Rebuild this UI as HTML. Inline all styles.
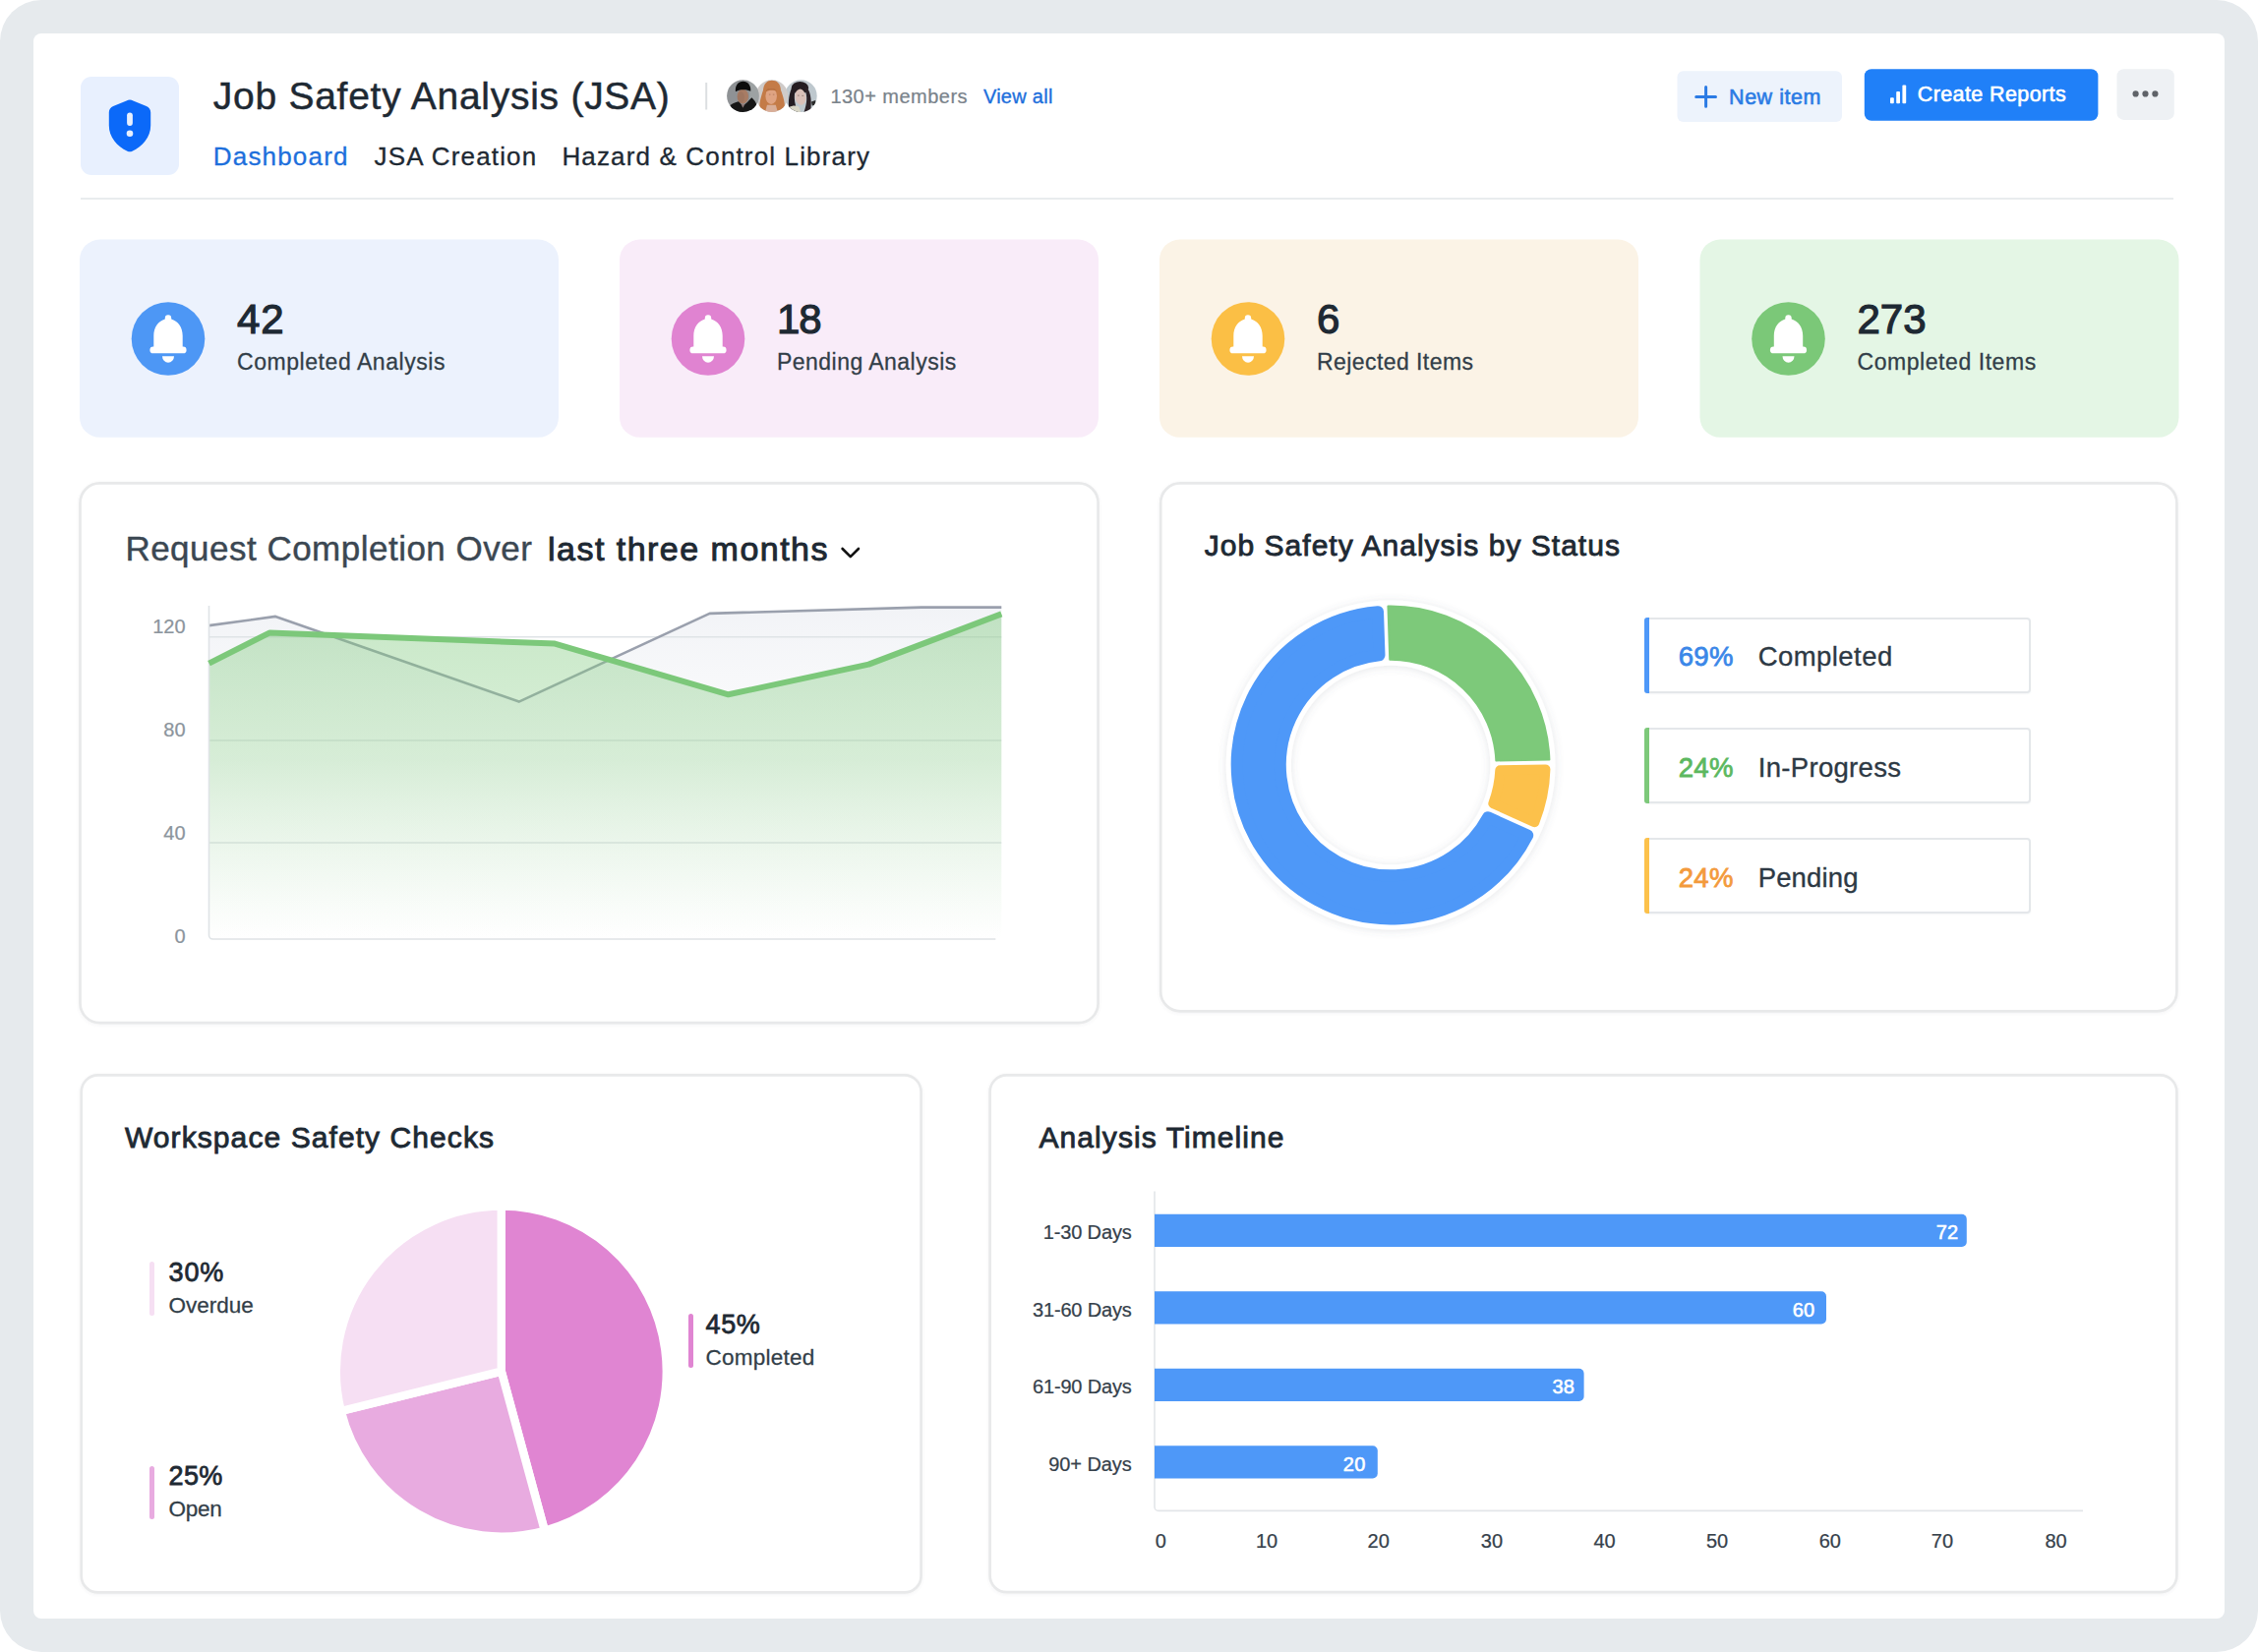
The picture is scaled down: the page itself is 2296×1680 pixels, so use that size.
<!DOCTYPE html>
<html lang="en"><head><meta charset="utf-8"><title>Job Safety Analysis (JSA)</title>
<style>
html,body{margin:0;padding:0}
body{width:2296px;height:1680px;position:relative;overflow:hidden;background:#fff;font-family:'Liberation Sans', sans-serif}
.abs{position:absolute}
.t{position:absolute;white-space:pre;line-height:1.2}
.frame{left:0;top:0;width:2296px;height:1680px;border-radius:42px;background:#e6eaed}
.panel{left:34px;top:34px;width:2228px;height:1612px;border-radius:8px;background:#fff}
.card{box-sizing:border-box;border:2px solid #e2e5e8;border-radius:23px;background:#fff;box-shadow:0 1px 3px rgba(90,100,112,.05)}
.hr{left:82px;top:201px;width:2128px;height:2px;background:#e9ecee}
.lg{box-sizing:border-box;width:393.600px;height:77.400px;border:2px solid #e4e7ea;border-radius:4px;background:#fff;box-shadow:0 1px 2px rgba(90,100,112,.06)}
.lg i{position:absolute;left:-2px;top:-2px;bottom:-2px;width:5.300px;border-radius:3px 0 0 3px}
.pb{width:5.200px;height:54.600px;border-radius:2.600px}
</style></head><body>
<div class="abs frame"></div><div class="abs panel"></div>
<div class="abs hr"></div>
<svg class="abs" style="left:0;top:0" width="2296" height="1680" viewBox="0 0 2296 1680">
<rect x="82" y="78" width="100" height="100" rx="11" fill="#e8f0fe"/>
<path d="M132 101.6c1.2 0 2.3 .3 3.4 .8l13.5 5.6c2.6 1.1 4.3 3.4 4.3 6.2v13.3c0 12-8.300 21.500-18.700 26.300a6 6 0 0 1 -5 0C119.100 149 110.800 139.500 110.800 127.500V114.200c0-2.800 1.700-5.100 4.300-6.200l13.500-5.600c1.100-.5 2.200-.8 3.400-.8Z" fill="#0b69f9"/>
<rect x="129.100" y="114.400" width="5.800" height="13.600" rx="2.900" fill="#e8f0fe"/><circle cx="132" cy="135.700" r="3.300" fill="#e8f0fe"/>
</svg>
<svg class="abs" style="left:0;top:0" width="2296" height="1680" viewBox="0 0 2296 1680"><defs><clipPath id="avc"><circle cx="0" cy="0" r="333"/></clipPath></defs><g transform="translate(814.4 97.6) scale(0.04895)"><g clip-path="url(#avc)"><rect x="-340" y="-340" width="680" height="680" fill="#bec8ce"/>
<ellipse cx="-20" cy="-170" rx="176" ry="130" fill="#241d22"/>
<path d="M-192 -170C-262 0 -272 200 -232 335L-60 335C-122 200 -152 50 -122 -100Z" fill="#241d22"/>
<path d="M90 -205C192 -122 232 40 202 335L62 335C132 150 132 0 92 -100Z" fill="#2b2127"/>
<ellipse cx="-12" cy="20" rx="113" ry="165" fill="#d9c0b8" transform="rotate(-8)"/>
<path d="M-242 232C-182 192 -102 192 -42 222L0 345H-262Z" fill="#d8d6c6"/><path d="M216 122L302 92L312 182L232 202Z" fill="#2a2a2a"/>
<path d="M-70 -10h36M20 -5h36" stroke="#3a2a2a" stroke-width="14" opacity=".6"/></g></g><g transform="translate(784.9 97.6) scale(0.04895)"><g clip-path="url(#avc)"><rect x="-340" y="-340" width="680" height="680" fill="#cfcbc9"/>
<path d="M-182 -120C-172 -262 -92 -326 0 -326C100 -326 180 -262 186 -120C232 0 282 150 262 300L-252 312C-272 150 -222 0 -182 -120Z" fill="#c47b47"/>
<ellipse cx="-15" cy="0" rx="118" ry="172" fill="#dfa382"/>
<path d="M-135 -85C-105 -192 62 -202 108 -92C40 -130 -62 -132 -135 -85Z" fill="#b8703f"/>
<path d="M-100 185L80 185L125 345H-145Z" fill="#d9ae98"/><path d="M-60 -30h30M20 -30h30" stroke="#7a4a35" stroke-width="14" opacity=".6"/></g></g><g transform="translate(755.4 97.6) scale(0.04895)"><g clip-path="url(#avc)"><rect x="-340" y="-340" width="680" height="680" fill="#8f9295"/><rect x="140" y="-340" width="200" height="680" fill="#aaaeaf" opacity=".55"/>
<ellipse cx="-2" cy="10" rx="118" ry="152" fill="#a87c64"/><ellipse cx="-40" cy="30" rx="70" ry="120" fill="#96705c" opacity=".5"/>
<path d="M-152 -88C-165 -220 -92 -302 5 -302C102 -302 172 -222 160 -98C100 -142 -92 -142 -152 -88Z" fill="#0c0c0c"/>
<path d="M-262 192C-200 150 -135 122 -92 116L0 205L92 132L182 32C232 72 272 132 292 200L300 345H-300Z" fill="#161616"/><path d="M-40 160L0 250L40 170Z" fill="#8e7a78"/></g></g><rect x="717.2" y="84" width="2" height="27.5" fill="#dcdfe2"/></svg>
<svg class="abs" style="left:0;top:0" width="2296" height="1680" viewBox="0 0 2296 1680">
<rect x="1705.500" y="72.300" width="167.500" height="51.600" rx="6" fill="#edf3fc"/>
<path d="M1734.600 88.500v19.800M1724.700 98.400h19.800" stroke="#2b7be4" stroke-width="3" stroke-linecap="round"/>
<rect x="1895.800" y="70.300" width="237.600" height="52.400" rx="7" fill="#2080f8"/>
<g fill="#fff"><rect x="1922" y="99.300" width="3.800" height="6" rx="1"/><rect x="1928.200" y="93" width="3.800" height="12.300" rx="1"/><rect x="1934.400" y="86.500" width="3.800" height="18.800" rx="1"/></g>
<rect x="2152.500" y="70.300" width="58.300" height="51.600" rx="7" fill="#eef1f4"/>
<g fill="#5f6368"><circle cx="2171.600" cy="95.400" r="3.100"/><circle cx="2181.500" cy="95.400" r="3.100"/><circle cx="2191.400" cy="95.400" r="3.100"/></g>
</svg>
<svg class="abs" style="left:0;top:0" width="2296" height="1680" viewBox="0 0 2296 1680"><rect x="81" y="243.6" width="487" height="201.2" rx="20.5" fill="#ecf2fd"/><circle cx="171" cy="344.5" r="37.3" fill="#4d97f5"/><g transform="translate(171 344.5)" fill="#fff"><path d="M-14.7 8.5V-3C-14.7 -12 -9.6 -18 -3.2 -19.9V-21.1a3.2 3.2 0 0 1 6.4 0V-19.9C9.6 -18 14.7 -12 14.7 -3V8.5Z"/><rect x="-18.6" y="8" width="37.2" height="6.8" rx="3.4"/><path d="M-6 17.8H6A6 6.4 0 0 1 -6 17.8Z"/></g><rect x="630" y="243.6" width="487" height="201.2" rx="20.5" fill="#f9ecf9"/><circle cx="720" cy="344.5" r="37.3" fill="#e083d1"/><g transform="translate(720 344.5)" fill="#fff"><path d="M-14.7 8.5V-3C-14.7 -12 -9.6 -18 -3.2 -19.9V-21.1a3.2 3.2 0 0 1 6.4 0V-19.9C9.6 -18 14.7 -12 14.7 -3V8.5Z"/><rect x="-18.6" y="8" width="37.2" height="6.8" rx="3.4"/><path d="M-6 17.8H6A6 6.4 0 0 1 -6 17.8Z"/></g><rect x="1179" y="243.6" width="487" height="201.2" rx="20.5" fill="#fbf3e6"/><circle cx="1269" cy="344.5" r="37.3" fill="#fbbf45"/><g transform="translate(1269 344.5)" fill="#fff"><path d="M-14.7 8.5V-3C-14.7 -12 -9.6 -18 -3.2 -19.9V-21.1a3.2 3.2 0 0 1 6.4 0V-19.9C9.6 -18 14.7 -12 14.7 -3V8.5Z"/><rect x="-18.6" y="8" width="37.2" height="6.8" rx="3.4"/><path d="M-6 17.8H6A6 6.4 0 0 1 -6 17.8Z"/></g><rect x="1728.5" y="243.6" width="487" height="201.2" rx="20.5" fill="#e4f6e5"/><circle cx="1818.5" cy="344.5" r="37.3" fill="#7bc878"/><g transform="translate(1818.5 344.5)" fill="#fff"><path d="M-14.7 8.5V-3C-14.7 -12 -9.6 -18 -3.2 -19.9V-21.1a3.2 3.2 0 0 1 6.4 0V-19.9C9.6 -18 14.7 -12 14.7 -3V8.5Z"/><rect x="-18.6" y="8" width="37.2" height="6.8" rx="3.4"/><path d="M-6 17.8H6A6 6.4 0 0 1 -6 17.8Z"/></g></svg>
<svg class="abs" style="left:0;top:0" width="2296" height="1680" viewBox="0 0 2296 1680"><defs><filter id="cs" x="-2%" y="-2%" width="104%" height="106%"><feDropShadow dx="0" dy="1" stdDeviation="1.6" flood-color="#5a6470" flood-opacity="0.07"/></filter></defs><g fill="#fff" stroke="#e8e9ea" stroke-width="2.7" filter="url(#cs)"><rect x="81.5" y="491.4" width="1035.1" height="548.8" rx="20"/><rect x="1180.2" y="491.4" width="1033.2" height="537.0" rx="20"/><rect x="82.7" y="1093.4" width="853.9" height="526.0" rx="17"/><rect x="1006.6" y="1093.4" width="1206.8" height="525.8" rx="17"/></g></svg>
<svg class="abs" style="left:0;top:0" width="2296" height="1680" viewBox="0 0 2296 1680">
<defs>
<linearGradient id="gg" x1="0" y1="624" x2="0" y2="955" gradientUnits="userSpaceOnUse">
<stop offset="0" stop-color="#7cc87a" stop-opacity="0.42"/><stop offset="0.45" stop-color="#8fd08d" stop-opacity="0.34"/><stop offset="1" stop-color="#a8dba6" stop-opacity="0.0"/></linearGradient>
<linearGradient id="gr" x1="0" y1="617" x2="0" y2="955" gradientUnits="userSpaceOnUse">
<stop offset="0" stop-color="#e4e7ee" stop-opacity="0.5"/><stop offset="0.4" stop-color="#eef0f4" stop-opacity="0.25"/><stop offset="1" stop-color="#eef0f4" stop-opacity="0"/></linearGradient>
</defs>
<polygon points="212.5,636.1 280.2,626.9 527.7,713.6 721.6,623.9 936.9,617.6 1018.3,617.6 1018.3,955 212.5,955" fill="url(#gr)"/>
<g stroke="#dfe3e6" stroke-width="1.4">
<line x1="212.5" y1="647.8" x2="1018.3" y2="647.8"/><line x1="212.5" y1="753" x2="1018.3" y2="753"/><line x1="212.5" y1="857" x2="1018.3" y2="857"/>
</g>
<polyline points="212.5,636.1 280.2,626.9 527.7,713.6 721.6,623.9 936.9,617.6 1018.3,617.6" fill="none" stroke="#9aa0ad" stroke-width="2.6" stroke-linejoin="round"/>
<polygon points="212.5,674.6 274.4,643.4 564.2,654.6 740.6,706.3 883.3,675.6 1018.3,624.4 1018.3,955 212.5,955" fill="url(#gg)"/>
<path d="M212.5 616V951a4 4 0 0 0 4 4H1012.4" fill="none" stroke="#dfe3e6" stroke-width="1.6"/>
<polyline points="212.5,674.6 274.4,643.4 564.2,654.6 740.6,706.3 883.3,675.6 1018.3,624.4" fill="none" stroke="#7cc87a" stroke-width="6" stroke-linejoin="round"/>
<path d="M856.6 558l8.2 8.2 8.2-8.2" fill="none" stroke="#111" stroke-width="2.6" stroke-linecap="round" stroke-linejoin="round"/>
</svg>
<svg class="abs" style="left:0;top:0" width="2296" height="1680" viewBox="0 0 2296 1680">
<defs><filter id="ds" x="-20%" y="-20%" width="140%" height="140%"><feDropShadow dx="0" dy="1" stdDeviation="4" flood-color="#5a6470" flood-opacity="0.16"/></filter></defs>
<path d="M1414.1 610.6a167.4 167.4 0 1 1 -0.01 0ZM1414.1 676.7a101.3 101.3 0 1 0 0.01 0Z" fill="#fff" fill-rule="evenodd" filter="url(#ds)"/>
<path d="M1411.45 616.62A161.40 161.40 0 0 1 1575.41 772.48L1521.30 773.43A107.30 107.30 0 0 0 1413.24 670.70Z" fill="#7dc97a" stroke="#7dc97a" stroke-width="2.0" stroke-linejoin="round"/>
<path d="M1571.44 782.45A157.40 157.40 0 0 1 1560.37 836.14L1518.29 817.14A111.30 111.30 0 0 0 1525.28 783.26Z" fill="#fcc14b" stroke="#fcc14b" stroke-width="10" stroke-linejoin="round"/>
<path d="M1553.21 849.48A156.40 156.40 0 1 1 1401.03 622.15L1402.49 666.30A112.30 112.30 0 1 0 1512.95 831.30Z" fill="#4e98f8" stroke="#4e98f8" stroke-width="12" stroke-linejoin="round"/>
</svg>
<div class="abs lg" style="left:1671.8px;top:627.5px"><i style="background:#4e98f8"></i></div><div class="abs lg" style="left:1671.8px;top:739.8px"><i style="background:#7dc97a"></i></div><div class="abs lg" style="left:1671.8px;top:852.1px"><i style="background:#fcc14b"></i></div>
<svg class="abs" style="left:0;top:0" width="2296" height="1680" viewBox="0 0 2296 1680">
<g stroke="#fff" stroke-width="8.4" stroke-linejoin="miter">
<path d="M509.8 1394.6L509.80 1226.60A168 168 0 0 1 553.85 1556.72Z" fill="#e085d2"/>
<path d="M509.8 1394.6L553.85 1556.72A168 168 0 0 1 346.72 1434.96Z" fill="#e8abe0"/>
<path d="M509.8 1394.6L346.72 1434.96A168 168 0 0 1 509.80 1226.60Z" fill="#f6dff3"/>
</g></svg>
<div class="abs pb" style="left:151.7px;top:1283.2px;background:#f6dff3"></div><div class="abs pb" style="left:151.7px;top:1490.5px;background:#e8abe0"></div><div class="abs pb" style="left:700px;top:1336.2px;background:#e085d2"></div>
<svg class="abs" style="left:0;top:0" width="2296" height="1680" viewBox="0 0 2296 1680">
<path d="M1174 1211.5V1532.4a4 4 0 0 0 4 4H2118" fill="none" stroke="#e3e6e9" stroke-width="1.6"/>
<path d="M1174 1234.8H1994.8a5 5 0 0 1 5 5v23.2a5 5 0 0 1 -5 5H1174Z" fill="#4e98f8"/><path d="M1174 1313.3H1852.0a5 5 0 0 1 5 5v23.2a5 5 0 0 1 -5 5H1174Z" fill="#4e98f8"/><path d="M1174 1391.8H1605.6a5 5 0 0 1 5 5v23.2a5 5 0 0 1 -5 5H1174Z" fill="#4e98f8"/><path d="M1174 1470.3H1395.8a5 5 0 0 1 5 5v23.2a5 5 0 0 1 -5 5H1174Z" fill="#4e98f8"/></svg>
<div class="t" style="left:216.8px;top:74.8px;font-size:39px;color:#1e2933;-webkit-text-stroke:0.47px #1e2933;letter-spacing:0.73px;">Job Safety Analysis (JSA)</div>
<div class="t" style="left:216.8px;top:143.8px;font-size:26px;color:#1d6fdc;-webkit-text-stroke:0.31px #1d6fdc;letter-spacing:1.18px;">Dashboard</div>
<div class="t" style="left:380.6px;top:143.8px;font-size:26px;color:#1e2933;-webkit-text-stroke:0.31px #1e2933;letter-spacing:1.17px;">JSA Creation</div>
<div class="t" style="left:571.4px;top:143.8px;font-size:26px;color:#1e2933;-webkit-text-stroke:0.31px #1e2933;letter-spacing:1.15px;">Hazard &amp; Control Library</div>
<div class="t" style="left:844.4px;top:86.3px;font-size:20px;color:#7a838b;-webkit-text-stroke:0.24px #7a838b;letter-spacing:0.47px;">130+ members</div>
<div class="t" style="left:999.9px;top:86.3px;font-size:20px;color:#1d6fdc;letter-spacing:0.27px;-webkit-text-stroke:0.35px #1d6fdc;">View all</div>
<div class="t" style="left:1758.1px;top:86.8px;font-size:21.5px;color:#2b7be4;-webkit-text-stroke:0.60px #2b7be4;letter-spacing:0.52px;">New item</div>
<div class="t" style="left:1949.8px;top:83.5px;font-size:21.5px;color:#ffffff;-webkit-text-stroke:0.60px #ffffff;letter-spacing:0.39px;">Create Reports</div>
<div class="t" style="left:241.0px;top:300.2px;font-size:42px;color:#1e2933;-webkit-text-stroke:1.18px #1e2933;letter-spacing:0.84px;">42</div>
<div class="t" style="left:241.0px;top:355.0px;font-size:23px;color:#323e48;-webkit-text-stroke:0.28px #323e48;letter-spacing:0.56px;">Completed Analysis</div>
<div class="t" style="left:790.0px;top:300.2px;font-size:42px;color:#1e2933;-webkit-text-stroke:1.18px #1e2933;letter-spacing:-1.20px;">18</div>
<div class="t" style="left:790.0px;top:355.0px;font-size:23px;color:#323e48;-webkit-text-stroke:0.28px #323e48;letter-spacing:0.47px;">Pending Analysis</div>
<div class="t" style="left:1339.0px;top:300.2px;font-size:42px;color:#1e2933;-webkit-text-stroke:1.18px #1e2933;letter-spacing:1.04px;">6</div>
<div class="t" style="left:1339.0px;top:355.0px;font-size:23px;color:#323e48;-webkit-text-stroke:0.28px #323e48;letter-spacing:0.43px;">Rejected Items</div>
<div class="t" style="left:1888.5px;top:300.2px;font-size:42px;color:#1e2933;-webkit-text-stroke:1.18px #1e2933;letter-spacing:-0.03px;">273</div>
<div class="t" style="left:1888.5px;top:355.0px;font-size:23px;color:#323e48;-webkit-text-stroke:0.28px #323e48;letter-spacing:0.56px;">Completed Items</div>
<div class="t" style="left:127.4px;top:537.3px;font-size:35px;color:#3b4752;-webkit-text-stroke:0.42px #3b4752;letter-spacing:0.49px;">Request Completion Over</div>
<div class="t" style="left:557.0px;top:538.2px;font-size:34px;color:#1e2933;-webkit-text-stroke:0.95px #1e2933;letter-spacing:1.48px;">last three months</div>
<div class="t" style="left:155.2px;top:624.9px;font-size:20px;color:#8c959d;-webkit-text-stroke:0.24px #8c959d;">120</div>
<div class="t" style="left:166.3px;top:729.7px;font-size:20px;color:#8c959d;-webkit-text-stroke:0.24px #8c959d;">80</div>
<div class="t" style="left:166.3px;top:835.3px;font-size:20px;color:#8c959d;-webkit-text-stroke:0.24px #8c959d;">40</div>
<div class="t" style="left:177.5px;top:940.3px;font-size:20px;color:#8c959d;-webkit-text-stroke:0.24px #8c959d;">0</div>
<div class="t" style="left:1224.8px;top:536.6px;font-size:30px;color:#1e2933;-webkit-text-stroke:0.84px #1e2933;letter-spacing:1.02px;">Job Safety Analysis by Status</div>
<div class="t" style="left:1706.7px;top:651.3px;font-size:27.5px;color:#3b87e8;-webkit-text-stroke:0.77px #3b87e8;letter-spacing:0.32px;">69%</div>
<div class="t" style="left:1787.7px;top:651.3px;font-size:27.5px;color:#2d3944;-webkit-text-stroke:0.33px #2d3944;letter-spacing:0.44px;">Completed</div>
<div class="t" style="left:1706.7px;top:763.6px;font-size:27.5px;color:#5cb85f;-webkit-text-stroke:0.77px #5cb85f;letter-spacing:0.32px;">24%</div>
<div class="t" style="left:1787.7px;top:763.6px;font-size:27.5px;color:#2d3944;-webkit-text-stroke:0.33px #2d3944;letter-spacing:0.32px;">In-Progress</div>
<div class="t" style="left:1706.7px;top:875.9px;font-size:27.5px;color:#f39a3c;-webkit-text-stroke:0.77px #f39a3c;letter-spacing:0.32px;">24%</div>
<div class="t" style="left:1787.7px;top:875.9px;font-size:27.5px;color:#2d3944;-webkit-text-stroke:0.33px #2d3944;letter-spacing:0.15px;">Pending</div>
<div class="t" style="left:127.0px;top:1138.5px;font-size:30px;color:#1e2933;-webkit-text-stroke:0.84px #1e2933;letter-spacing:1.08px;">Workspace Safety Checks</div>
<div class="t" style="left:171.6px;top:1277.6px;font-size:27px;color:#1e2933;-webkit-text-stroke:0.76px #1e2933;letter-spacing:0.85px;">30%</div>
<div class="t" style="left:171.6px;top:1313.7px;font-size:22.5px;color:#323e48;-webkit-text-stroke:0.27px #323e48;letter-spacing:-0.04px;">Overdue</div>
<div class="t" style="left:171.6px;top:1484.8px;font-size:27px;color:#1e2933;-webkit-text-stroke:0.76px #1e2933;letter-spacing:0.32px;">25%</div>
<div class="t" style="left:171.6px;top:1521.0px;font-size:22.5px;color:#323e48;-webkit-text-stroke:0.27px #323e48;letter-spacing:-0.31px;">Open</div>
<div class="t" style="left:717.6px;top:1330.6px;font-size:27px;color:#1e2933;-webkit-text-stroke:0.76px #1e2933;letter-spacing:0.58px;">45%</div>
<div class="t" style="left:717.6px;top:1366.7px;font-size:22.5px;color:#323e48;-webkit-text-stroke:0.27px #323e48;letter-spacing:0.22px;">Completed</div>
<div class="t" style="left:1056.5px;top:1139.1px;font-size:30px;color:#1e2933;-webkit-text-stroke:0.84px #1e2933;letter-spacing:1.07px;">Analysis Timeline</div>
<div class="t" style="left:1060.7px;top:1241.4px;font-size:20px;color:#36414b;-webkit-text-stroke:0.24px #36414b;letter-spacing:-0.13px;">1-30 Days</div>
<div class="t" style="left:1968.7px;top:1241.4px;font-size:20px;color:#ffffff;-webkit-text-stroke:0.56px #ffffff;letter-spacing:0.22px;">72</div>
<div class="t" style="left:1050.0px;top:1319.9px;font-size:20px;color:#36414b;-webkit-text-stroke:0.24px #36414b;letter-spacing:-0.17px;">31-60 Days</div>
<div class="t" style="left:1822.7px;top:1319.9px;font-size:20px;color:#ffffff;-webkit-text-stroke:0.56px #ffffff;letter-spacing:0.22px;">60</div>
<div class="t" style="left:1050.0px;top:1398.4px;font-size:20px;color:#36414b;-webkit-text-stroke:0.24px #36414b;letter-spacing:-0.17px;">61-90 Days</div>
<div class="t" style="left:1578.4px;top:1398.4px;font-size:20px;color:#ffffff;-webkit-text-stroke:0.56px #ffffff;letter-spacing:0.22px;">38</div>
<div class="t" style="left:1066.2px;top:1476.9px;font-size:20px;color:#36414b;-webkit-text-stroke:0.24px #36414b;letter-spacing:-0.07px;">90+ Days</div>
<div class="t" style="left:1365.8px;top:1476.9px;font-size:20px;color:#ffffff;-webkit-text-stroke:0.56px #ffffff;letter-spacing:0.22px;">20</div>
<div class="t" style="left:1174.7px;top:1555.1px;font-size:20px;color:#36414b;-webkit-text-stroke:0.24px #36414b;">0</div>
<div class="t" style="left:1277.0px;top:1555.1px;font-size:20px;color:#36414b;-webkit-text-stroke:0.24px #36414b;">10</div>
<div class="t" style="left:1390.6px;top:1555.1px;font-size:20px;color:#36414b;-webkit-text-stroke:0.24px #36414b;">20</div>
<div class="t" style="left:1505.8px;top:1555.1px;font-size:20px;color:#36414b;-webkit-text-stroke:0.24px #36414b;">30</div>
<div class="t" style="left:1620.4px;top:1555.1px;font-size:20px;color:#36414b;-webkit-text-stroke:0.24px #36414b;">40</div>
<div class="t" style="left:1735.0px;top:1555.1px;font-size:20px;color:#36414b;-webkit-text-stroke:0.24px #36414b;">50</div>
<div class="t" style="left:1849.7px;top:1555.1px;font-size:20px;color:#36414b;-webkit-text-stroke:0.24px #36414b;">60</div>
<div class="t" style="left:1963.8px;top:1555.1px;font-size:20px;color:#36414b;-webkit-text-stroke:0.24px #36414b;">70</div>
<div class="t" style="left:2079.4px;top:1555.1px;font-size:20px;color:#36414b;-webkit-text-stroke:0.24px #36414b;">80</div>
</body></html>
